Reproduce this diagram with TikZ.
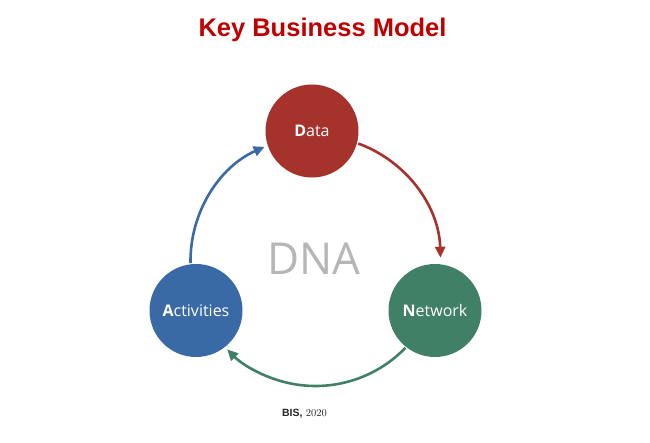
\documentclass[tikz,border=0pt]{standalone}
\usepackage{fontspec}
\newfontfamily\arialf{Liberation Sans}
\newfontfamily\opensans{Open Sans}
\usetikzlibrary{arrows.meta,calc}
\definecolor{titlered}{RGB}{192,0,0}
\definecolor{datared}{RGB}{166,50,44}
\definecolor{actblue}{RGB}{58,106,166}
\definecolor{netgreen}{RGB}{64,128,103}
\definecolor{dnagray}{RGB}{182,182,182}
\tikzset{
  bubble/.style={circle, minimum size=93pt, inner sep=0pt, text=white,
    font=\opensans\fontsize{16}{19}\selectfont},
  cycarrow/.style={line width=2.6pt, -{Triangle[length=11pt,width=10pt]}},
}
\begin{document}
\begin{tikzpicture}[x=1pt,y=1pt]
\useasboundingbox[fill=white] (0,0) rectangle (650,442);
\node[anchor=base, text=titlered, font=\arialf\bfseries\fontsize{25.5}{30}\selectfont] (title) at (322.5,405) {Key Business Model};
\coordinate (O) at (315.5,181);
\node[bubble, fill=datared] (data) at (312,311) {\textbf{D}ata};
\node[bubble, fill=actblue] (act) at (196,131.5) {\textbf{A}ctivities};
\node[bubble, fill=netgreen] (net) at (435,131.5) {\textbf{N}etwork};
\node[text=dnagray, font=\opensans\fontsize{44}{50}\selectfont] (dna) at (314,183.5) {DNA};
\draw[cycarrow, actblue] ($(O)+(181:125)$) arc[start angle=181, end angle=114, radius=125];
\draw[cycarrow, datared] ($(O)+(70:125)$) arc[start angle=70, end angle=1.5, radius=125];
\draw[cycarrow, netgreen] ($(O)+(-44:125)$) arc[start angle=-44, end angle=-135, radius=125];
\node[anchor=base, font=\fontsize{10.5}{12}\selectfont, text=black!85] (src) at (304.5,26) {{\arialf\bfseries BIS,} 2020};
\end{tikzpicture}
\end{document}
